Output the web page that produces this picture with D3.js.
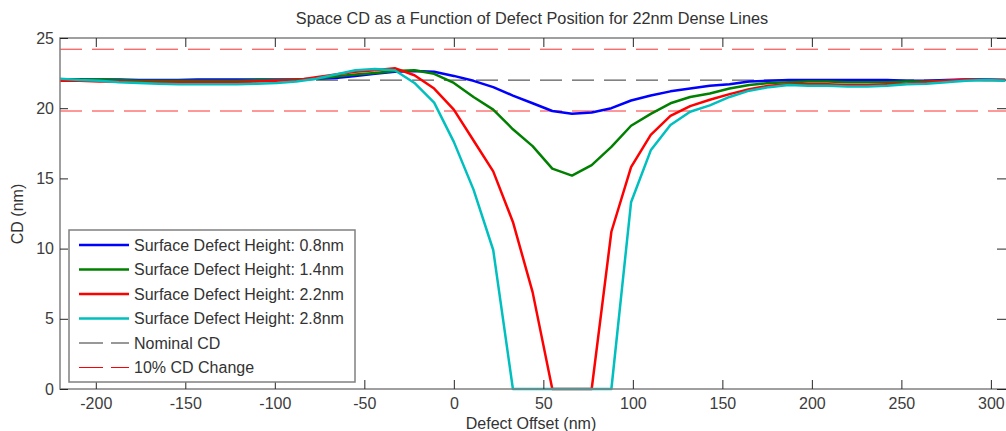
<!DOCTYPE html>
<html>
<head>
<meta charset="utf-8">
<script src="https://cdn.jsdelivr.net/npm/d3@7"></script>
<style>
  body { margin: 0; background: #fff; }
  svg text { font-family: "Liberation Sans", Arial, sans-serif; fill: #333; }
</style>
</head>
<body>
<div class="container"></div>
<script>
// defect offsets, 11 nm steps
var offsets = d3.range(-220, 309, 11);

var h08 = [22.05, 22.05, 22.05, 22.05, 22.0, 22.0, 22.0, 22.05, 22.05, 22.05, 22.05,
           22.05, 22.05, 22.1, 22.15, 22.3, 22.45, 22.6, 22.65, 22.6, 22.3,
           21.95, 21.5, 20.9, 20.35, 19.8, 19.6, 19.7, 20.0, 20.55, 20.9,
           21.2, 21.4, 21.6, 21.7, 21.9, 21.95, 22.0, 22.0, 22.0, 22.0,
           22.0, 22.0, 21.95, 21.95, 22.0, 22.05, 22.05, 22.0];
var h14 = [22.05, 22.05, 22.05, 22.0, 21.95, 21.95, 21.95, 21.95, 21.95, 21.95, 22.0,
           22.0, 22.05, 22.1, 22.25, 22.4, 22.5, 22.65, 22.7, 22.45, 21.8,
           20.8, 19.9, 18.5, 17.3, 15.7, 15.2, 15.95, 17.25, 18.75, 19.6,
           20.35, 20.8, 21.05, 21.4, 21.65, 21.8, 21.85, 21.9, 21.9, 21.85,
           21.85, 21.85, 21.9, 21.9, 21.95, 22.0, 22.0, 22.0];
var h22 = [21.95, 21.95, 21.9, 21.9, 21.85, 21.85, 21.85, 21.85, 21.85, 21.85, 21.9,
           21.95, 22.0, 22.2, 22.4, 22.6, 22.7, 22.85, 22.35, 21.4, 19.9,
           17.7, 15.5, 11.9, 6.9, 0, 0, 0, 11.2, 15.8, 18.1,
           19.45, 20.15, 20.6, 21.0, 21.35, 21.6, 21.7, 21.7, 21.7, 21.65,
           21.65, 21.7, 21.75, 21.85, 21.95, 22.05, 22.0, 22.0];
var h28 = [22.1, 22.0, 21.95, 21.85, 21.8, 21.75, 21.7, 21.7, 21.7, 21.7, 21.75,
           21.8, 21.9, 22.1, 22.4, 22.7, 22.8, 22.7, 21.8, 20.4, 17.6,
           14.2, 9.9, 0, 0, 0, 0, 0, 0, 13.3, 17.0,
           18.8, 19.75, 20.2, 20.8, 21.25, 21.5, 21.65, 21.6, 21.6, 21.55,
           21.55, 21.6, 21.7, 21.75, 21.85, 21.95, 22.0, 21.95];

var seriesNames = ['Surface Defect Height: 0.8nm', 'Surface Defect Height: 1.4nm',
                   'Surface Defect Height: 2.2nm', 'Surface Defect Height: 2.8nm'];
var seriesColors = ['#0000ff', '#008000', '#ff0000', '#00bfbf'];
var nominalCD = 22;
var cdLimits = [19.8, 24.2];
var xTicks = [-200, -150, -100, -50, 0, 50, 100, 150, 200, 250, 300];
var yTicks = [0, 5, 10, 15, 20, 25];

var svg = d3.select('.container')
            .append('svg')
                .attr('width', 1006)
                .attr('height', 431);

// right edge of the axes sits just past the window
var x = d3.scaleLinear().domain([-220, 309]).range([60, 1007]);
var y = d3.scaleLinear().domain([0, 25]).range([389, 38]);

svg.append('clipPath').attr('id', 'plotclip')
    .append('rect')
        .attr('x', 60).attr('y', 36)
        .attr('width', 950).attr('height', 356);

var plot = svg.append('g').attr('clip-path', 'url(#plotclip)');

// reference lines
plot.append('line')
    .attr('x1', x(-220)).attr('x2', x(309))
    .attr('y1', y(nominalCD)).attr('y2', y(nominalCD))
    .style('stroke', '#333').style('stroke-width', 1)
    .style('stroke-dasharray', '22,10');

cdLimits.forEach(function(v) {
    plot.append('line')
        .attr('x1', x(-220)).attr('x2', x(309))
        .attr('y1', y(v)).attr('y2', y(v))
        .style('stroke', '#ff3030').style('stroke-width', 1)
        .style('stroke-dasharray', '22,10');
});

var line = d3.line()
    .x(function(d) { return x(d[0]); })
    .y(function(d) { return y(d[1]); });

[h08, h14, h22, h28].forEach(function(vals, i) {
    plot.append('path')
        .datum(offsets.map(function(o, j) { return [o, vals[j]]; }))
        .attr('d', line)
        .style('fill', 'none')
        .style('stroke', seriesColors[i])
        .style('stroke-width', 2.5)
        .style('stroke-linejoin', 'round');
});

// box
svg.append('rect')
    .attr('x', 60).attr('y', 38)
    .attr('width', 947).attr('height', 351)
    .style('fill', 'none')
    .style('stroke', '#808080')
    .style('stroke-width', 1.5);

// ticks, pointing inward
var plain = function(d) { return String(d); };
var axisBottom = d3.axisBottom(x).tickValues(xTicks).tickSizeInner(-9).tickSizeOuter(0).tickPadding(9).tickFormat(plain);
var axisTop = d3.axisTop(x).tickValues(xTicks).tickSizeInner(-9).tickSizeOuter(0).tickFormat('');
var axisLeft = d3.axisLeft(y).tickValues(yTicks).tickSizeInner(-8).tickSizeOuter(0).tickPadding(6).tickFormat(plain);
var axisRight = d3.axisRight(y).tickValues(yTicks).tickSizeInner(-9).tickSizeOuter(0).tickFormat('');

function styleAxis(g) {
    g.select('.domain').remove();
    g.selectAll('.tick line').style('stroke', '#262626');
    g.selectAll('.tick text')
        .style('font-family', '"Liberation Sans", Arial, sans-serif')
        .style('font-size', '16px')
        .style('fill', '#3c3c3c');
}

svg.append('g').attr('transform', 'translate(0,389)').call(axisBottom).call(styleAxis);
svg.append('g').attr('transform', 'translate(0,38)').call(axisTop).call(styleAxis);
svg.append('g').attr('transform', 'translate(60,0)').call(axisLeft).call(styleAxis);
svg.append('g').attr('transform', 'translate(1006,0)').call(axisRight).call(styleAxis);

// title and labels
svg.append('text')
    .attr('x', 532).attr('y', 24)
    .attr('text-anchor', 'middle')
    .style('font-size', '16.3px')
    .text('Space CD as a Function of Defect Position for 22nm Dense Lines');

svg.append('text')
    .attr('x', 531).attr('y', 429)
    .attr('text-anchor', 'middle')
    .style('font-size', '16px')
    .text('Defect Offset (nm)');

svg.append('text')
    .attr('transform', 'translate(23,214) rotate(-90)')
    .attr('text-anchor', 'middle')
    .style('font-size', '16px')
    .text('CD (nm)');

// legend
var legendNames = seriesNames.concat(['Nominal CD', '10% CD Change']);
var legendColors = seriesColors.concat(['#333', '#ff0000']);

var legend = svg.append('g');
legend.append('rect')
    .attr('x', 69).attr('y', 230)
    .attr('width', 286).attr('height', 152)
    .style('fill', '#fff')
    .style('stroke', '#808080')
    .style('stroke-width', 1.5);

legendNames.forEach(function(name, i) {
    var ly = 245 + i * 24.5;
    legend.append('line')
        .attr('x1', 79).attr('x2', 129)
        .attr('y1', ly).attr('y2', ly)
        .style('stroke', legendColors[i])
        .style('stroke-width', i < 4 ? 2.5 : 1.2)
        .style('stroke-dasharray', i < 4 ? null : '24,8');
    legend.append('text')
        .attr('x', 134).attr('y', ly + 5.5)
        .style('font-size', '16px')
        .text(name);
});
</script>
</body>
</html>
